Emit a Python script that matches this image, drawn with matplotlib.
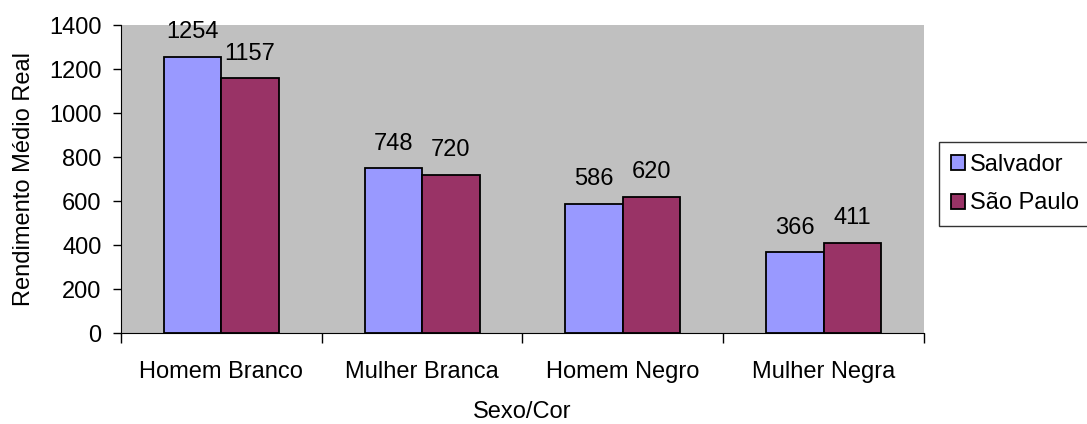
import numpy as np
import matplotlib
matplotlib.use("Agg")
import matplotlib.pyplot as plt

plt.rcParams['font.family'] = ['Liberation Sans', 'DejaVu Sans']

categories = ['Homem Branco', 'Mulher Branca', 'Homem Negro', 'Mulher Negra']
salvador = [1254, 748, 586, 366]
sao_paulo = [1157, 720, 620, 411]
series_names = ['Salvador', 'São Paulo']
colors = ['#9999FF', '#993366']

fs = 17

fig = plt.figure(figsize=(10.87, 4.24), dpi=100)
ax = fig.add_axes([0.1113, 0.2146, 0.7387, 0.7264])
ax.set_facecolor('#C0C0C0')

x = np.arange(len(categories))
w = 0.286
b1 = ax.bar(x - w / 2, salvador, w, color=colors[0], edgecolor='black', linewidth=1.3, label=series_names[0])
b2 = ax.bar(x + w / 2, sao_paulo, w, color=colors[1], edgecolor='black', linewidth=1.3, label=series_names[1])

for bars in (b1, b2):
    for r in bars:
        ax.annotate(str(int(r.get_height())), (r.get_x() + r.get_width() / 2, r.get_height()),
                    xytext=(0, 10), textcoords='offset points', ha='center', va='bottom', fontsize=fs)

ax.set_xlim(-0.5, len(categories) - 0.5)
ax.set_ylim(0, 1400)
ax.set_yticks(range(0, 1401, 200))
ax.set_xticks(x)
ax.set_xticklabels(categories, fontsize=fs)
ax.set_xticks(np.arange(-0.5, len(categories), 1), minor=True)
ax.tick_params(axis='x', which='major', length=0, pad=20)
ax.tick_params(axis='x', which='minor', length=7, width=1)
ax.tick_params(axis='y', length=6, width=1, labelsize=fs, pad=8)
for s in ['top', 'right']:
    ax.spines[s].set_visible(False)
ax.spines['left'].set_color('black')
ax.spines['bottom'].set_color('black')

ax.set_xlabel('Sexo/Cor', fontsize=fs, labelpad=13)
ax.set_ylabel('Rendimento Médio Real', fontsize=fs, labelpad=10)

leg = fig.legend(loc='upper left', bbox_to_anchor=(939 / 1087, 1 - 142 / 424), fontsize=fs,
                 frameon=True, fancybox=False, edgecolor='black', handlelength=0.6, handleheight=0.6,
                 handletextpad=0.2, borderpad=0.5, labelspacing=0.7, borderaxespad=0)
leg.get_frame().set_linewidth(1)

fig.savefig('out.png', dpi=100)
